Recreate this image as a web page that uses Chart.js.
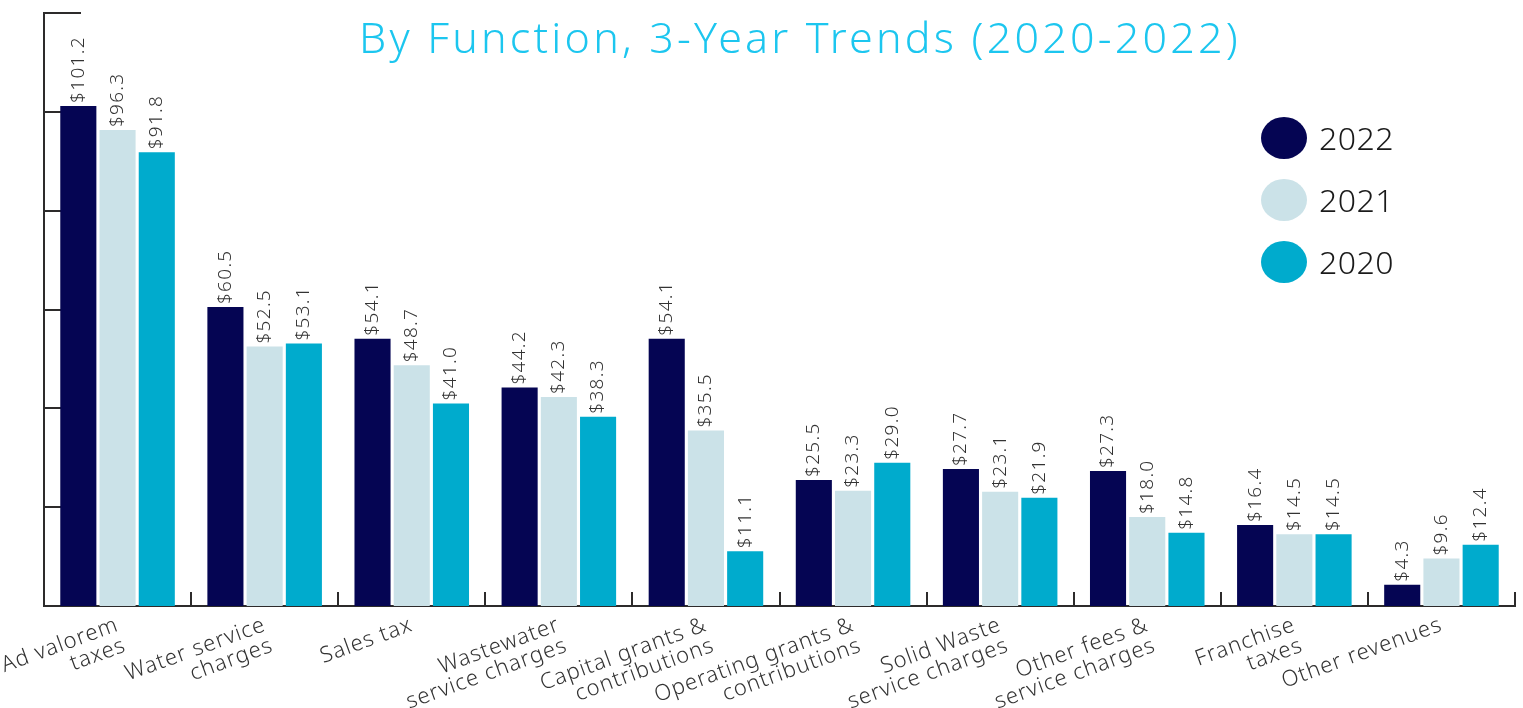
<!DOCTYPE html>
<html>
<head>
<meta charset="utf-8">
<script src="https://cdn.jsdelivr.net/npm/chart.js@4.4.1/dist/chart.umd.min.js"></script>
<style>
html,body{margin:0;padding:0;background:#fff;}
#wrap{width:1523px;height:708px;position:relative;}
</style>
</head>
<body>
<div id="wrap"><canvas id="c" width="1523" height="708"></canvas></div>
<script>
const categories = [
  ["Ad valorem","taxes"],
  ["Water service","charges"],
  ["Sales tax"],
  ["Wastewater","service charges"],
  ["Capital grants &","contributions"],
  ["Operating grants &","contributions"],
  ["Solid Waste","service charges"],
  ["Other fees &","service charges"],
  ["Franchise","taxes"],
  ["Other revenues"]
];
const years = ["2022","2021","2020"];
const values2022 = [101.2, 60.5, 54.1, 44.2, 54.1, 25.5, 27.7, 27.3, 16.4, 4.3];
const values2021 = [96.3, 52.5, 48.7, 42.3, 35.5, 23.3, 23.1, 18.0, 14.5, 9.6];
const values2020 = [91.8, 53.1, 41.0, 38.3, 11.1, 29.0, 21.9, 14.8, 14.5, 12.4];
const yTicks = [0, 20, 40, 60, 80, 100, 120];
const titleText = "By Function, 3-Year Trends (2020-2022)";

const colors = ["#050553", "#cbe2e8", "#00abcd"];
const FONT = "'Noto Sans', 'Open Sans', sans-serif";
const AXIS = "#2d2b2b";

const spacing = {
  id: 'spacing',
  beforeDraw(chart) { chart.ctx.letterSpacing = "1px"; }
};

const innerTicks = {
  id: 'innerTicks',
  beforeDatasetsDraw(chart) {
    const ctx = chart.ctx, ca = chart.chartArea;
    const y = chart.scales.y, x = chart.scales.x;
    ctx.save();
    ctx.strokeStyle = AXIS;
    ctx.lineWidth = 2;
    y.ticks.forEach(t => {
      const py = Math.round(y.getPixelForValue(t.value));
      ctx.beginPath();
      ctx.moveTo(ca.left, py);
      ctx.lineTo(ca.left + 37, py);
      ctx.stroke();
    });
    const n = categories.length;
    const w = (x.right - x.left) / n;
    for (let i = 1; i <= n; i++) {
      const px = Math.round(x.left + i * w);
      ctx.beginPath();
      ctx.moveTo(px, ca.bottom);
      ctx.lineTo(px, ca.bottom - 14);
      ctx.stroke();
    }
    ctx.restore();
  }
};

const valueLabels = {
  id: 'valueLabels',
  afterDatasetsDraw(chart) {
    const ctx = chart.ctx;
    ctx.save();
    ctx.fillStyle = "#333";
    ctx.font = "300 19px " + FONT;
    ctx.letterSpacing = "1.3px";
    ctx.textAlign = "left";
    ctx.textBaseline = "middle";
    chart.data.datasets.forEach((ds, di) => {
      const meta = chart.getDatasetMeta(di);
      meta.data.forEach((bar, i) => {
        ctx.save();
        ctx.translate(bar.x, bar.y - 3);
        ctx.rotate(-Math.PI / 2);
        ctx.fillText("$" + ds.data[i].toFixed(1), 0, 0);
        ctx.restore();
      });
    });
    ctx.restore();
  }
};

const titleLegend = {
  id: 'titleLegend',
  afterDraw(chart) {
    const ctx = chart.ctx;
    ctx.save();
    ctx.fillStyle = "#1cc6ef";
    ctx.font = "300 43px " + FONT;
    ctx.letterSpacing = "3.2px";
    ctx.textAlign = "center";
    ctx.textBaseline = "alphabetic";
    ctx.fillText(titleText, 800, 53);
    chart.data.datasets.forEach((ds, i) => {
      const cy = 138 + i * 62;
      ctx.beginPath();
      ctx.ellipse(1284, cy, 23, 21, 0, 0, Math.PI * 2);
      ctx.fillStyle = ds.backgroundColor;
      ctx.fill();
      ctx.fillStyle = "#1a1a1a";
      ctx.font = "300 32px " + FONT;
      ctx.letterSpacing = "0.5px";
      ctx.textAlign = "left";
      ctx.textBaseline = "middle";
      ctx.fillText(ds.label, 1319, cy + 3);
    });
    ctx.restore();
  }
};

new Chart(document.getElementById('c'), {
  type: 'bar',
  data: {
    labels: categories,
    datasets: [
      { label: years[0], data: values2022, backgroundColor: colors[0] },
      { label: years[1], data: values2021, backgroundColor: colors[1] },
      { label: years[2], data: values2020, backgroundColor: colors[2] }
    ]
  },
  options: {
    responsive: false,
    animation: false,
    devicePixelRatio: 1,
    layout: { padding: { left: 44, right: 8, top: 13, bottom: 0 } },
    datasets: { bar: { categoryPercentage: 0.8, barPercentage: 0.92 } },
    plugins: { legend: { display: false }, tooltip: { enabled: false }, title: { display: false } },
    scales: {
      x: {
        grid: { display: false, drawOnChartArea: false, drawTicks: false },
        border: { display: true, color: AXIS, width: 2 },
        ticks: {
          autoSkip: false, minRotation: 20, maxRotation: 20, padding: 8,
          color: "#333", font: { family: FONT, size: 22, weight: 300, lineHeight: 1.0 }
        },
        afterFit(s) { s.height = 102; }
      },
      y: {
        min: 0, max: 120,
        afterBuildTicks(s) { s.ticks = yTicks.map(v => ({ value: v })); },
        grid: { display: false, drawOnChartArea: false, drawTicks: false },
        border: { display: true, color: AXIS, width: 2 },
        ticks: { display: false },
        afterFit(s) { s.width = 0; }
      }
    }
  },
  plugins: [spacing, innerTicks, valueLabels, titleLegend]
});
</script>
</body>
</html>
